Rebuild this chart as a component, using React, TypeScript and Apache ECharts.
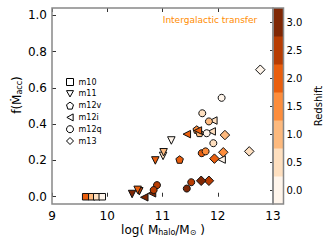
import React, { useEffect, useRef } from "react";
import * as echarts from "echarts";

const FONT = "DejaVu Sans";

const redshiftLevels = [0, 0.5, 1, 1.5, 2, 2.5, 3];
const levelColors = ["#fff5eb", "#fedfbf", "#fdb97d", "#fd8d3c", "#e95e0d", "#b73c02", "#7f2704"];
const xTicks = [9, 10, 11, 12, 13];
const yTicks = [0, 0.2, 0.4, 0.6, 0.8, 1.0];

const simNames = ["m10", "m11", "m12v", "m12i", "m12q", "m13"];

// [log Mhalo, f(Mdot_acc), redshift]
const m10 = [[9.61, 0, 2], [9.72, 0, 1], [9.81, 0, 0.5], [9.91, 0, 0]];
const m11 = [[11.16, 0.31, 0], [11.01, 0.225, 0.5], [11.02, 0.245, 1], [10.87, 0.2, 2], [10.58, 0.03, 2.5], [10.55, 0.038, 2], [10.45, 0.015, 3]];
const m12v = [[11.31, 0.205, 2], [11.62, 0.37, 1.5], [11.67, 0.352, 1]];
const m12i = [[12.07, 0.205, 0], [11.92, 0.42, 0.5], [11.89, 0.36, 0.5], [11.64, 0.365, 2], [11.44, 0.345, 2], [10.81, 0.019, 3], [10.67, -0.003, 3]];
const m12q = [[12.07, 0.545, 0], [11.72, 0.46, 0.5], [11.84, 0.415, 1], [11.8, 0.35, 0], [11.92, 0.295, 0.5], [11.71, 0.24, 2], [11.78, 0.25, 1.5], [11.52, 0.08, 2.5], [11.44, 0.045, 3], [10.9, 0.064, 2.5], [10.84, 0.037, 2.5]];
const m13 = [[12.77, 0.7, 0], [12.57, 0.25, 0.5], [12.13, 0.34, 1], [12.1, 0.245, 1.5], [11.94, 0.21, 2], [11.84, 0.088, 2.5], [11.7, 0.088, 3]];

const simData = [m10, m11, m12v, m12i, m12q, m13];
const simSymbols = [
  "rect",
  "path://M0,0L10,0L5,9z",
  "path://M5,0L10,3.8L8.1,10L1.9,10L0,3.8z",
  "path://M0,5L9,0L9,10z",
  "circle",
  "diamond",
];
const simSizes = [6.5, 7.5, 7.5, 7.5, 7, 9.5];

export default function App() {
  const ref = useRef<HTMLDivElement>(null);
  useEffect(() => {
    if (!ref.current) return;
    const chart = echarts.init(ref.current, null, { renderer: "svg" });
    const scatterSeries = simNames.map((name, i) => ({
      name,
      type: "scatter",
      xAxisIndex: 0,
      yAxisIndex: 0,
      symbol: simSymbols[i],
      symbolSize: simSizes[i],
      itemStyle: { color: "#fff", borderColor: "#111", borderWidth: 1, opacity: 1 },
      data: simData[i],
      z: 3,
    }));
    const option: any = {
      animation: false,
      textStyle: { fontFamily: FONT },
      grid: [
        { left: 52, top: 8, width: 221, height: 196, show: true, borderColor: "#888", borderWidth: 1.5, z: 5 },
        { left: 273, top: 8, width: 10.5, height: 196, show: true, borderColor: "#888", borderWidth: 1.5, z: 5 },
      ],
      xAxis: [
        {
          gridIndex: 0, type: "value", min: 9, max: 13, interval: 1, position: "bottom",
          axisLine: { show: false },
          axisTick: { inside: true, length: 4, lineStyle: { color: "#333" } },
          axisLabel: { fontSize: 12, color: "#000", margin: 6, fontFamily: FONT },
          splitLine: { show: false },
        },
        {
          gridIndex: 0, type: "value", min: 9, max: 13, interval: 1, position: "top",
          axisLine: { show: false },
          axisTick: { inside: true, length: 4, lineStyle: { color: "#333" } },
          axisLabel: { show: false },
          splitLine: { show: false },
        },
        { gridIndex: 1, type: "value", min: 0, max: 1, show: false },
      ],
      yAxis: [
        {
          gridIndex: 0, type: "value", min: -0.04, max: 1.04,
          axisLine: { show: false },
          axisTick: { inside: true, length: 4, customValues: yTicks, lineStyle: { color: "#333" } },
          axisLabel: { customValues: yTicks, formatter: (v: number) => v.toFixed(1), fontSize: 12, color: "#000", margin: 5, fontFamily: FONT },
          splitLine: { show: false },
        },
        {
          gridIndex: 1, type: "value", min: -0.25, max: 3.25, position: "right",
          axisLine: { show: false },
          axisTick: { inside: true, length: 3, customValues: redshiftLevels, lineStyle: { color: "#333" } },
          axisLabel: { customValues: redshiftLevels, formatter: (v: number) => v.toFixed(1), fontSize: 10, color: "#000", margin: 3, fontFamily: FONT },
          splitLine: { show: false },
          name: "Redshift", nameLocation: "middle", nameGap: 30, nameRotate: 90,
          nameTextStyle: { fontSize: 10, color: "#000", fontFamily: FONT },
        },
      ],
      legend: {
        orient: "vertical", left: 61, top: 73, itemWidth: 7, itemHeight: 7, itemGap: 3.8,
        textStyle: { fontSize: 8, color: "#000", fontFamily: FONT },
        data: simNames.map((n, i) => ({
          name: n, icon: simSymbols[i],
          itemStyle: { color: "#fff", borderColor: "#000", borderWidth: 1 },
        })),
      },
      visualMap: {
        type: "piecewise", show: false, dimension: 2, seriesIndex: [0, 1, 2, 3, 4, 5],
        pieces: redshiftLevels.map((z, i) => ({ gte: z - 0.25, lt: z + 0.25, color: levelColors[i] })),
      },
      series: [
        ...scatterSeries,
        {
          type: "custom",
          xAxisIndex: 2,
          yAxisIndex: 1,
          clip: false,
          silent: true,
          data: redshiftLevels.map((z, i) => [z - 0.25, z + 0.25, i]),
          encode: { y: [0, 1] },
          renderItem: (params: any, api: any) => {
            const lo = api.value(0);
            const hi = api.value(1);
            const p1 = api.coord([0, hi]);
            const p2 = api.coord([1, lo]);
            return {
              type: "rect",
              shape: { x: p1[0], y: p1[1], width: p2[0] - p1[0], height: p2[1] - p1[1] + 0.5 },
              style: { fill: levelColors[api.value(2)] },
            };
          },
        },
      ],
      graphic: [
        {
          type: "text", x: 210, y: 20,
          style: { text: "Intergalactic transfer", fill: "#ff8c00", fontSize: 9, fontFamily: FONT, align: "center", verticalAlign: "middle" },
        },
        {
          type: "text", x: 163, y: 230,
          style: {
            text: "log( M{sub|halo}/M{sub|⊙} )", fill: "#000", fontSize: 12, fontFamily: FONT,
            align: "center", verticalAlign: "middle",
            rich: { sub: { fontSize: 8, fontFamily: FONT, verticalAlign: "bottom", padding: [4, 0, 0, 0] } },
          },
        },
        {
          type: "text", x: 17, y: 95, rotation: Math.PI / 2,
          style: {
            text: "f(Ṁ{sub|acc})", fill: "#000", fontSize: 12, fontFamily: FONT,
            align: "center", verticalAlign: "middle",
            rich: { sub: { fontSize: 8, fontFamily: FONT, verticalAlign: "bottom", padding: [4, 0, 0, 0] } },
          },
        },
      ],
    };
    chart.setOption(option);
    return () => chart.dispose();
  }, []);
  return <div ref={ref} style={{ width: 325, height: 244, position: "absolute", left: 0, top: 0 }} />;
}
